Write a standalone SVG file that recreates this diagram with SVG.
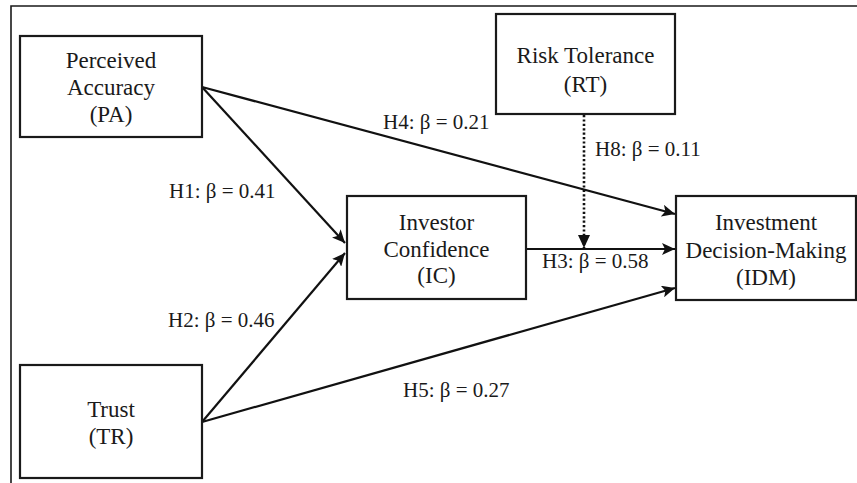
<svg xmlns="http://www.w3.org/2000/svg" width="857" height="483" viewBox="0 0 857 483">
<style>
.box{fill:#fff;stroke:#1a1a1a;stroke-width:2.2}
.t{font-family:"Liberation Serif","Times New Roman",serif;font-size:23px;fill:#1a1a1a;text-anchor:middle}
.l{font-family:"Liberation Serif","Times New Roman",serif;font-size:21px;fill:#1a1a1a}
.c{fill:none;stroke:#111;stroke-width:2.2}
.d{fill:none;stroke:#111;stroke-width:2.6;stroke-dasharray:2.2 2.2}
</style>
<defs>
<marker id="ah" markerUnits="userSpaceOnUse" markerWidth="14" markerHeight="12" refX="13" refY="6" orient="auto">
<path d="M0,0 L13,6 L0,12 L3,6 z" fill="#111"/>
</marker>
<marker id="ah2" markerUnits="userSpaceOnUse" markerWidth="14" markerHeight="12" refX="13" refY="6" orient="auto">
<path d="M0,0 L13,6 L0,12 z" fill="#111"/>
</marker>
</defs>
<rect width="857" height="483" fill="#fff"/>
<path d="M11,483 V6 H857" fill="none" stroke="#1a1a1a" stroke-width="1.6"/>
<g id="connectors">
<path class="c" d="M202,87 L345,243" marker-end="url(#ah)"/>
<path class="c" d="M202,422 L345,253" marker-end="url(#ah)"/>
<path class="c" d="M202,87 L675,214" marker-end="url(#ah)"/>
<path class="c" d="M526,249 L675,249" marker-end="url(#ah)"/>
<path class="c" d="M202,422 L675,288" marker-end="url(#ah)"/>
<path class="d" d="M584,115 L584,248" marker-end="url(#ah2)"/>
<text class="l" x="169" y="198">H1: β = 0.41</text>
<text class="l" x="168" y="327">H2: β = 0.46</text>
<text class="l" x="542" y="268">H3: β = 0.58</text>
<text class="l" x="383" y="129">H4: β = 0.21</text>
<text class="l" x="403" y="397">H5: β = 0.27</text>
<text class="l" x="595" y="156">H8: β = 0.11</text>
</g>
<g id="PA">
<rect class="box" x="20" y="36" width="182" height="101"/>
<text class="t" x="111" y="68">Perceived</text>
<text class="t" x="111" y="95">Accuracy</text>
<text class="t" x="111" y="122">(PA)</text>
</g>
<g id="RT">
<rect class="box" x="496" y="14" width="179" height="100"/>
<text class="t" x="585.5" y="63">Risk Tolerance</text>
<text class="t" x="585.5" y="92">(RT)</text>
</g>
<g id="IC">
<rect class="box" x="347" y="196" width="179" height="103"/>
<text class="t" x="436.5" y="230">Investor</text>
<text class="t" x="436.5" y="257">Confidence</text>
<text class="t" x="436.5" y="283">(IC)</text>
</g>
<g id="IDM">
<rect class="box" x="676" y="196" width="180" height="104"/>
<text class="t" x="766" y="230">Investment</text>
<text class="t" x="766" y="258">Decision-Making</text>
<text class="t" x="766" y="285">(IDM)</text>
</g>
<g id="TR">
<rect class="box" x="20" y="365" width="182" height="113"/>
<text class="t" x="111" y="417">Trust</text>
<text class="t" x="111" y="444">(TR)</text>
</g>
</svg>
